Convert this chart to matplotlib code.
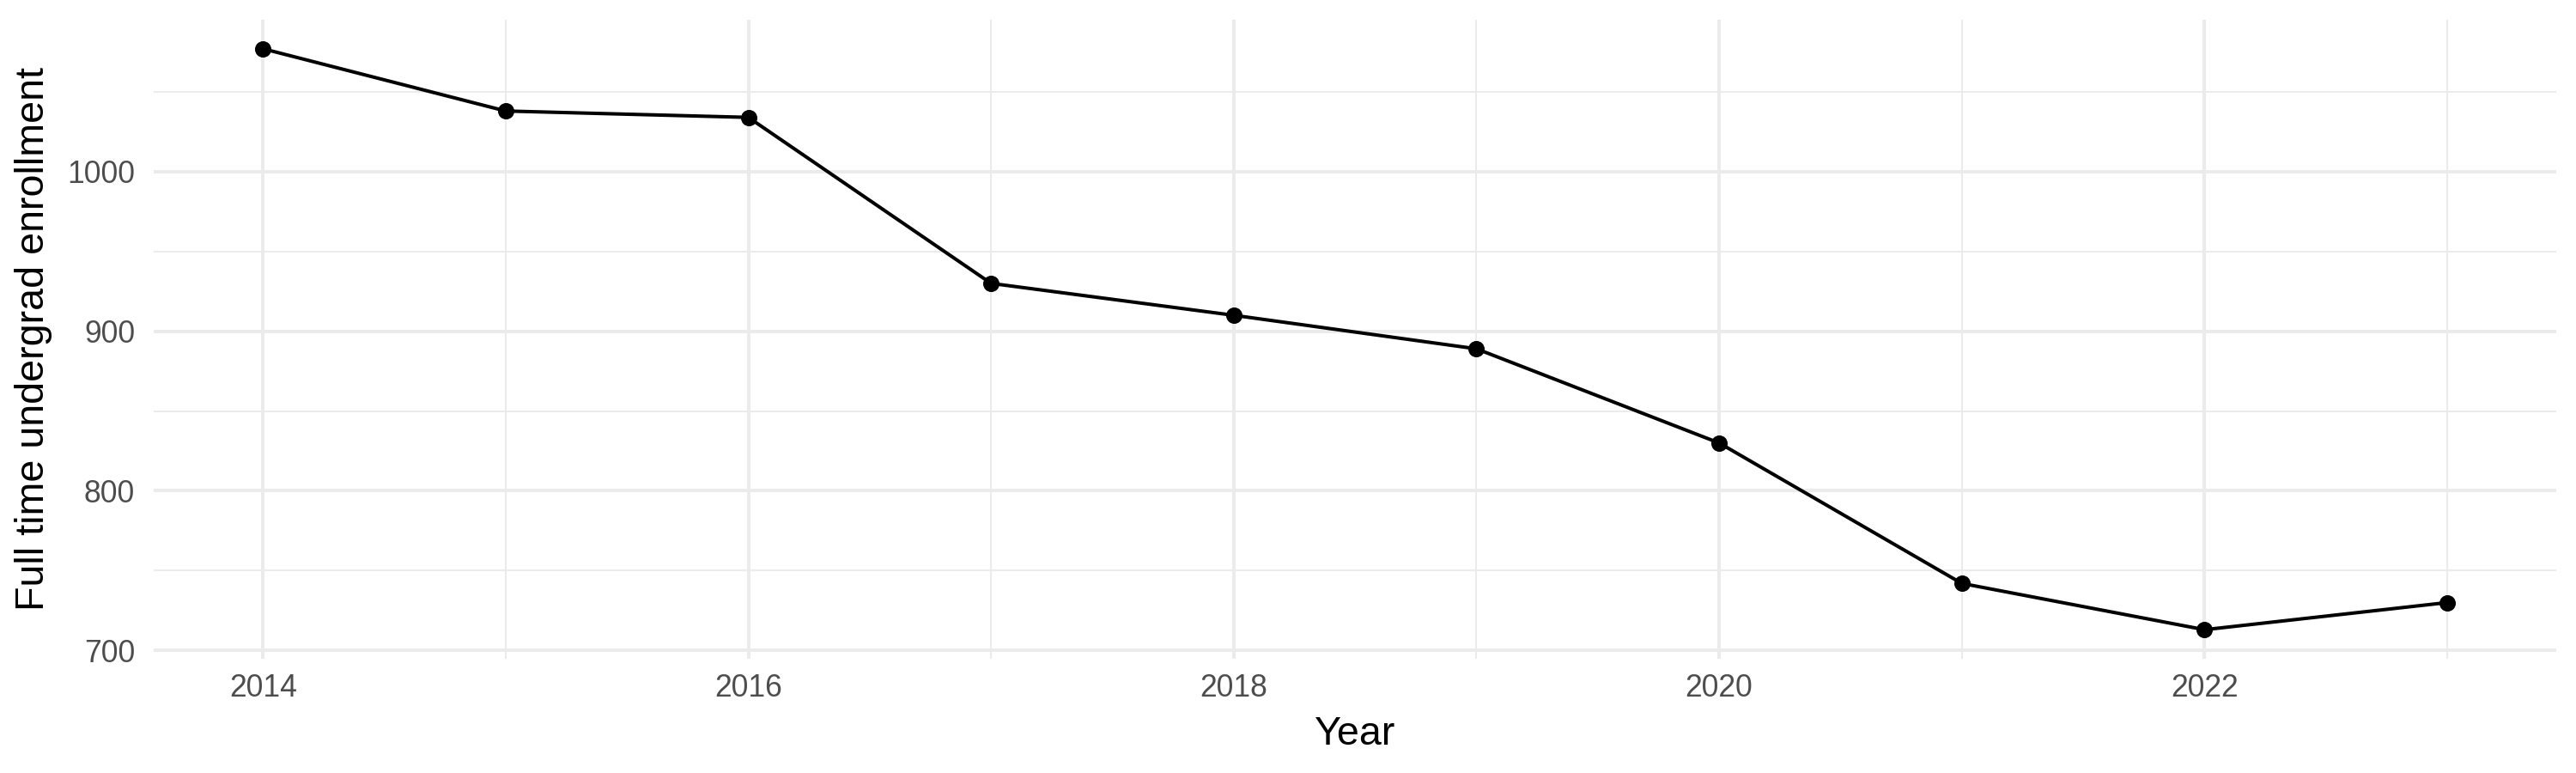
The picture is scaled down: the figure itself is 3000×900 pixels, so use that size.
import matplotlib
matplotlib.use("Agg")
from matplotlib import pyplot as plt
from matplotlib.ticker import MultipleLocator

# enrollment data
years = [2014, 2015, 2016, 2017, 2018, 2019, 2020, 2021, 2022, 2023]
enrollment = [1077, 1038, 1034, 930, 910, 889, 830, 742, 713, 730]

plt.rcParams['font.family'] = ['Liberation Sans', 'DejaVu Sans']

fig = plt.figure(figsize=(15, 4.5), dpi=200)
ax = fig.add_axes([0.0597, 0.1478, 0.9327, 0.8267])

ax.plot(years, enrollment, color='black', linewidth=1.45, zorder=3)
ax.scatter(years, enrollment, color='black', s=47, zorder=4, linewidths=0)

# ggplot-like expansion (5%)
xr = max(years) - min(years)
yr = max(enrollment) - min(enrollment)
ax.set_xlim(min(years) - 0.05 * xr, max(years) + 0.05 * xr)
ax.set_ylim(min(enrollment) - 0.05 * yr, max(enrollment) + 0.05 * yr)

ax.xaxis.set_major_locator(MultipleLocator(2))
ax.xaxis.set_minor_locator(MultipleLocator(1))
ax.yaxis.set_major_locator(MultipleLocator(100))
ax.yaxis.set_minor_locator(MultipleLocator(50))

ax.grid(which='major', color='#EBEBEB', linewidth=1.45)
ax.grid(which='minor', color='#EBEBEB', linewidth=0.72)
ax.set_axisbelow(True)

for s in ax.spines.values():
    s.set_visible(False)
ax.tick_params(which='both', length=0)
ax.tick_params(axis='x', pad=6.1, labelsize=12.8, labelcolor='#4D4D4D')
ax.tick_params(axis='y', pad=7.9, labelsize=12.8, labelcolor='#4D4D4D')

ax.set_xlabel('Year', fontsize=16.8, color='black', labelpad=5)
ax.set_ylabel('Full time undergrad enrollment', fontsize=16.8, color='black', labelpad=6)

fig.savefig('out.png', dpi=200, facecolor='white')
